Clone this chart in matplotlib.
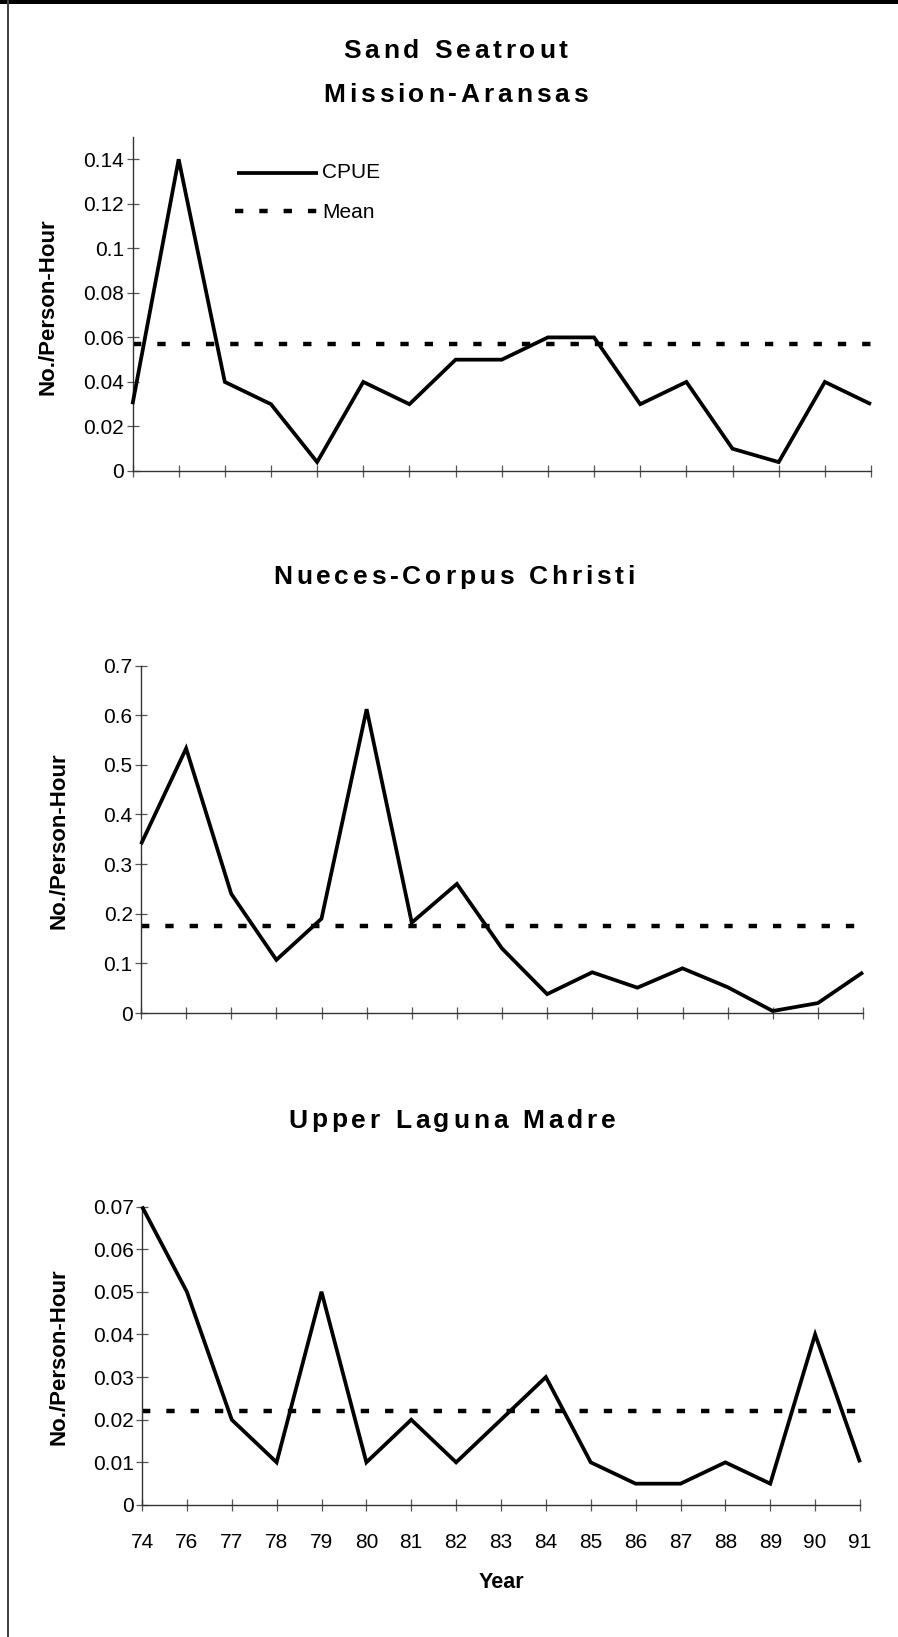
import matplotlib
matplotlib.use("Agg")
import matplotlib.pyplot as plt
from matplotlib.lines import Line2D
from matplotlib.patches import Rectangle
from matplotlib import font_manager
from matplotlib.ft2font import FT2Font, LoadFlags

plt.rcParams['font.family'] = ['Liberation Sans', 'DejaVu Sans']

# ---------------- data ----------------
years = ['74', '76', '77', '78', '79', '80', '81', '82', '83',
         '84', '85', '86', '87', '88', '89', '90', '91']

ma_cpue = [0.03, 0.14, 0.04, 0.03, 0.004, 0.04, 0.03, 0.05, 0.05,
           0.06, 0.06, 0.03, 0.04, 0.01, 0.004, 0.04, 0.03]
ma_mean = 0.057

nc_cpue = [0.34, 0.533, 0.24, 0.107, 0.19, 0.612, 0.182, 0.26, 0.13,
           0.038, 0.082, 0.051, 0.09, 0.052, 0.004, 0.02, 0.082]
nc_mean = 0.176

ulm_cpue = [0.07, 0.05, 0.02, 0.01, 0.05, 0.01, 0.02, 0.01, 0.02,
            0.03, 0.01, 0.005, 0.005, 0.01, 0.005, 0.04, 0.01]
ulm_mean = 0.022

ma_ticks = [0, 0.02, 0.04, 0.06, 0.08, 0.1, 0.12, 0.14]
ma_ticklabels = ['0', '0.02', '0.04', '0.06', '0.08', '0.1', '0.12', '0.14']
nc_ticks = [0, 0.1, 0.2, 0.3, 0.4, 0.5, 0.6, 0.7]
nc_ticklabels = ['0', '0.1', '0.2', '0.3', '0.4', '0.5', '0.6', '0.7']
ulm_ticks = [0, 0.01, 0.02, 0.03, 0.04, 0.05, 0.06, 0.07]
ulm_ticklabels = ['0', '0.01', '0.02', '0.03', '0.04', '0.05', '0.06', '0.07']

# ---------------- figure ----------------
W, H = 898, 1637
DPI = 100
fig = plt.figure(figsize=(W / DPI, H / DPI), dpi=DPI)
fig.patch.set_facecolor('white')


def fx(px):
    return px / W


def fy(py):
    return 1 - py / H


def add_axes_px(left, top, right, bottom):
    return fig.add_axes([fx(left), fy(bottom), fx(right - left), (bottom - top) / H])


LW = 2.7           # CPUE line width (pt)
MLW = 3.2          # mean line width (pt)
MDASH = (6.0 / MLW, 11.5 / MLW)
TICKFS = 15
SPINE_C = '#333333'
TICK_C = '#555555'

x = list(range(len(years)))


def style_axes(ax, ylim, ticks, ticklabels, show_xlabels):
    ax.set_xlim(x[0], x[-1])
    ax.set_ylim(*ylim)
    for s in ('top', 'right'):
        ax.spines[s].set_visible(False)
    for s in ('left', 'bottom'):
        ax.spines[s].set_color(SPINE_C)
        ax.spines[s].set_linewidth(1.0)
    ax.set_yticks(ticks)
    ax.set_yticklabels(ticklabels)
    ax.set_xticks(x)
    if show_xlabels:
        ax.set_xticklabels(years)
    else:
        ax.set_xticklabels([])
    ax.tick_params(axis='both', direction='inout', length=8, width=0.9,
                   color=TICK_C, labelsize=TICKFS, labelcolor='black')
    ax.tick_params(axis='y', pad=2.0)
    ax.tick_params(axis='x', pad=16)
    ax.patch.set_alpha(0)


def draw_series(ax, cpue, mean):
    ax.plot(x, cpue, color='black', lw=LW, solid_joinstyle='miter',
            solid_capstyle='butt', clip_on=False, zorder=3)
    ax.plot([x[0], x[-1]], [mean, mean], color='black', lw=MLW,
            dashes=MDASH, dash_capstyle='butt', clip_on=False, zorder=2)


# spaced bold titles
TITLE_FS = 19
title_fp = font_manager.FontProperties(family='Liberation Sans', weight='bold', size=TITLE_FS)
title_path = font_manager.findfont(title_fp)
ft = FT2Font(title_path)
ft.set_size(TITLE_FS, DPI)


def spaced_title(xc, yc, s, spacing=3.8):
    advs = []
    for ch in s:
        g = ft.load_char(ord(ch), flags=LoadFlags.NO_HINTING)
        advs.append(g.linearHoriAdvance / 65536.0)
    total = sum(advs) + spacing * (len(s) - 1)
    xpos = xc - total / 2
    for ch, a in zip(s, advs):
        fig.text(fx(xpos), fy(yc), ch, fontproperties=title_fp,
                 ha='left', va='center_baseline', color='black')
        xpos += a + spacing


# ---------------- panels ----------------
ax1 = add_axes_px(132.5, 137, 871, 471)
style_axes(ax1, (0, 0.15), ma_ticks, ma_ticklabels, False)
draw_series(ax1, ma_cpue, ma_mean)

ax2 = add_axes_px(141, 665.5, 863, 1013)
style_axes(ax2, (0, 0.7), nc_ticks, nc_ticklabels, False)
draw_series(ax2, nc_cpue, nc_mean)

ax3 = add_axes_px(142, 1206.5, 860, 1505)
style_axes(ax3, (0, 0.07), ulm_ticks, ulm_ticklabels, True)
draw_series(ax3, ulm_cpue, ulm_mean)

# titles
spaced_title(455.5, 48, 'Sand Seatrout')
spaced_title(455.5, 92, 'Mission-Aransas')
spaced_title(454, 575, 'Nueces-Corpus Christi')
spaced_title(452, 1118, 'Upper Laguna Madre')

# y labels
for xl, yc in ((48, 307), (59, 841), (59, 1357)):
    fig.text(fx(xl), fy(yc), 'No./Person-Hour', rotation=90, ha='center',
             va='center', fontsize=16, fontweight='bold')

# x label
fig.text(fx(501), fy(1583), 'Year', ha='center', va='center',
         fontsize=15.5, fontweight='bold')

# legend (top panel)
fig.add_artist(Line2D([fx(236.5), fx(318)], [fy(172.7), fy(172.7)],
                      transform=fig.transFigure, color='black', lw=LW,
                      solid_capstyle='butt'))
fig.add_artist(Line2D([fx(235), fx(318)], [fy(210.7), fy(210.7)],
                      transform=fig.transFigure, color='black', lw=MLW,
                      dashes=MDASH, dash_capstyle='butt'))
fig.text(fx(322), fy(173), 'CPUE', ha='left', va='center', fontsize=15)
fig.text(fx(322), fy(212), 'Mean', ha='left', va='center', fontsize=15)

# page frame: thick top band and thin left rule
fig.add_artist(Rectangle((0, fy(3.5)), 1, 3.5 / H, transform=fig.transFigure,
                         facecolor='black', edgecolor='none'))
fig.add_artist(Rectangle((fx(7.2), 0), 1.3 / W, 1, transform=fig.transFigure,
                         facecolor='#444444', edgecolor='none'))

fig.savefig('out.png', dpi=DPI, facecolor='white')
